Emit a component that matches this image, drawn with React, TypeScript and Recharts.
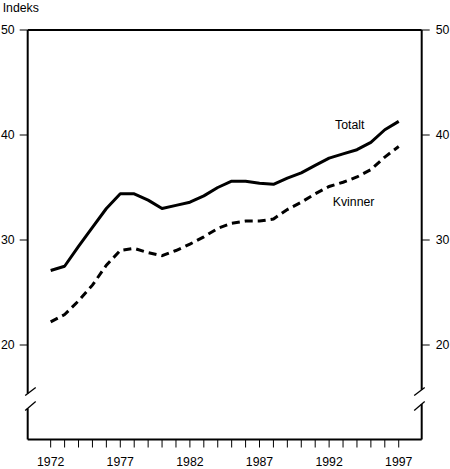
import {
  LineChart,
  Line,
  XAxis,
  YAxis,
  ReferenceLine,
  ReferenceDot
} from "recharts"

const years = [
  1972, 1973, 1974, 1975, 1976, 1977, 1978, 1979, 1980, 1981, 1982, 1983, 1984,
  1985, 1986, 1987, 1988, 1989, 1990, 1991, 1992, 1993, 1994, 1995, 1996, 1997
]

const totalt = [
  27.1, 27.5, 29.4, 31.2, 33.0, 34.4, 34.4, 33.8, 33.0, 33.3, 33.6, 34.2, 35.0,
  35.6, 35.6, 35.4, 35.3, 35.9, 36.4, 37.1, 37.8, 38.2, 38.6, 39.3, 40.5, 41.3
]

const kvinner = [
  22.2, 22.9, 24.2, 25.7, 27.6, 29.0, 29.2, 28.8, 28.5, 29.0, 29.6, 30.3, 31.1,
  31.6, 31.8, 31.8, 32.0, 32.9, 33.6, 34.4, 35.1, 35.5, 36.0, 36.7, 37.9, 38.9
]

const yTicks = [20, 30, 40, 50]
const yearLabels = [1972, 1977, 1982, 1987, 1992, 1997]

const data = years.map((year, i) => ({
  year,
  totalt: totalt[i],
  kvinner: kvinner[i]
}))

const X_DOMAIN = [1970.35, 1998.65]
const Y_DOMAIN = [11, 50]
const BREAK_AT = 14.76
const LABEL_INDEX = 21

const font = "'Liberation Sans', Arial, Helvetica, sans-serif"
const tickFont = { fill: "#000", fontSize: 12.3, fontFamily: font }

function XTick({ x, y, payload }: any) {
  if (!yearLabels.includes(payload.value)) return null
  return (
    <text x={x} y={y} dy="0.71em" textAnchor="middle" {...tickFont}>
      {payload.value}
    </text>
  )
}

// axis break: white gap plus two slashes
function AxisBreak({ cx, cy, shift }: any) {
  const len = 10.5
  const t = -shift / len
  const top = -4.5 - 8 * t
  const bot = 10.5 - 9 * t
  return (
    <g>
      <rect x={cx - 2} y={cy + top} width={4} height={bot - top} fill="#fff" />
      <line
        x1={cx + shift} y1={cy - 4.5}
        x2={cx + shift + len} y2={cy - 12.5}
        stroke="#000" strokeWidth={1.3}
      />
      <line
        x1={cx + shift} y1={cy + 10.5}
        x2={cx + shift + len} y2={cy + 1.5}
        stroke="#000" strokeWidth={1.3}
      />
    </g>
  )
}

function lineLabel(text: string, dx: number, dy: number) {
  return (props: any) => {
    if (props.index !== LABEL_INDEX) return null
    return (
      <text x={props.x + dx} y={props.y + dy} textAnchor="start" {...tickFont}>
        {text}
      </text>
    )
  }
}

export default function App() {
  return (
    <div style={{ position: "absolute", left: 0, top: 0, width: 450, height: 469 }}>
      <LineChart
        width={450}
        height={469}
        data={data}
        margin={{ top: 30, right: 0, bottom: 0, left: 0 }}
      >
        <XAxis
          dataKey="year"
          type="number"
          domain={X_DOMAIN}
          allowDataOverflow
          ticks={years}
          interval={0}
          height={29.5}
          axisLine={{ stroke: "#000", strokeWidth: 2 }}
          tickLine={{ stroke: "#000", strokeWidth: 1 }}
          tickSize={8}
          tickMargin={10}
          tick={<XTick />}
        />
        <YAxis
          yAxisId="left"
          orientation="left"
          type="number"
          domain={Y_DOMAIN}
          allowDataOverflow
          ticks={yTicks}
          width={27.7}
          axisLine={{ stroke: "#000", strokeWidth: 2 }}
          tickLine={{ stroke: "#000", strokeWidth: 1 }}
          tickSize={8}
          tickMargin={5}
          tick={tickFont}
          label={{
            content: () => (
              <text x={2.7} y={11.7} {...tickFont}>
                Indeks
              </text>
            )
          }}
        />
        <YAxis
          yAxisId="right"
          orientation="right"
          type="number"
          domain={Y_DOMAIN}
          allowDataOverflow
          ticks={yTicks}
          width={28.3}
          axisLine={{ stroke: "#000", strokeWidth: 2 }}
          tickLine={{ stroke: "#000", strokeWidth: 1 }}
          tickSize={8}
          tickMargin={6}
          tick={{ ...tickFont, textAnchor: "start" }}
        />

        <ReferenceLine
          yAxisId="left"
          y={Y_DOMAIN[1]}
          stroke="#000"
          strokeWidth={2}
        />

        <Line
          yAxisId="left"
          dataKey="totalt"
          stroke="#000"
          strokeWidth={3}
          dot={false}
          strokeLinejoin="round"
          isAnimationActive={false}
          label={lineLabel("Totalt", -8, -24.5)}
        />
        <Line
          yAxisId="left"
          dataKey="kvinner"
          stroke="#000"
          strokeWidth={3}
          strokeDasharray="8 5"
          dot={false}
          isAnimationActive={false}
          label={lineLabel("Kvinner", -10.3, 23.3)}
        />

        <ReferenceDot
          yAxisId="left"
          x={X_DOMAIN[0]}
          y={BREAK_AT}
          r={0}
          ifOverflow="visible"
          zIndex={1500}
          shape={(p: any) => <AxisBreak {...p} shift={-2.5} />}
        />
        <ReferenceDot
          yAxisId="left"
          x={X_DOMAIN[1]}
          y={BREAK_AT}
          r={0}
          ifOverflow="visible"
          zIndex={1500}
          shape={(p: any) => <AxisBreak {...p} shift={-7.5} />}
        />
      </LineChart>
    </div>
  )
}
